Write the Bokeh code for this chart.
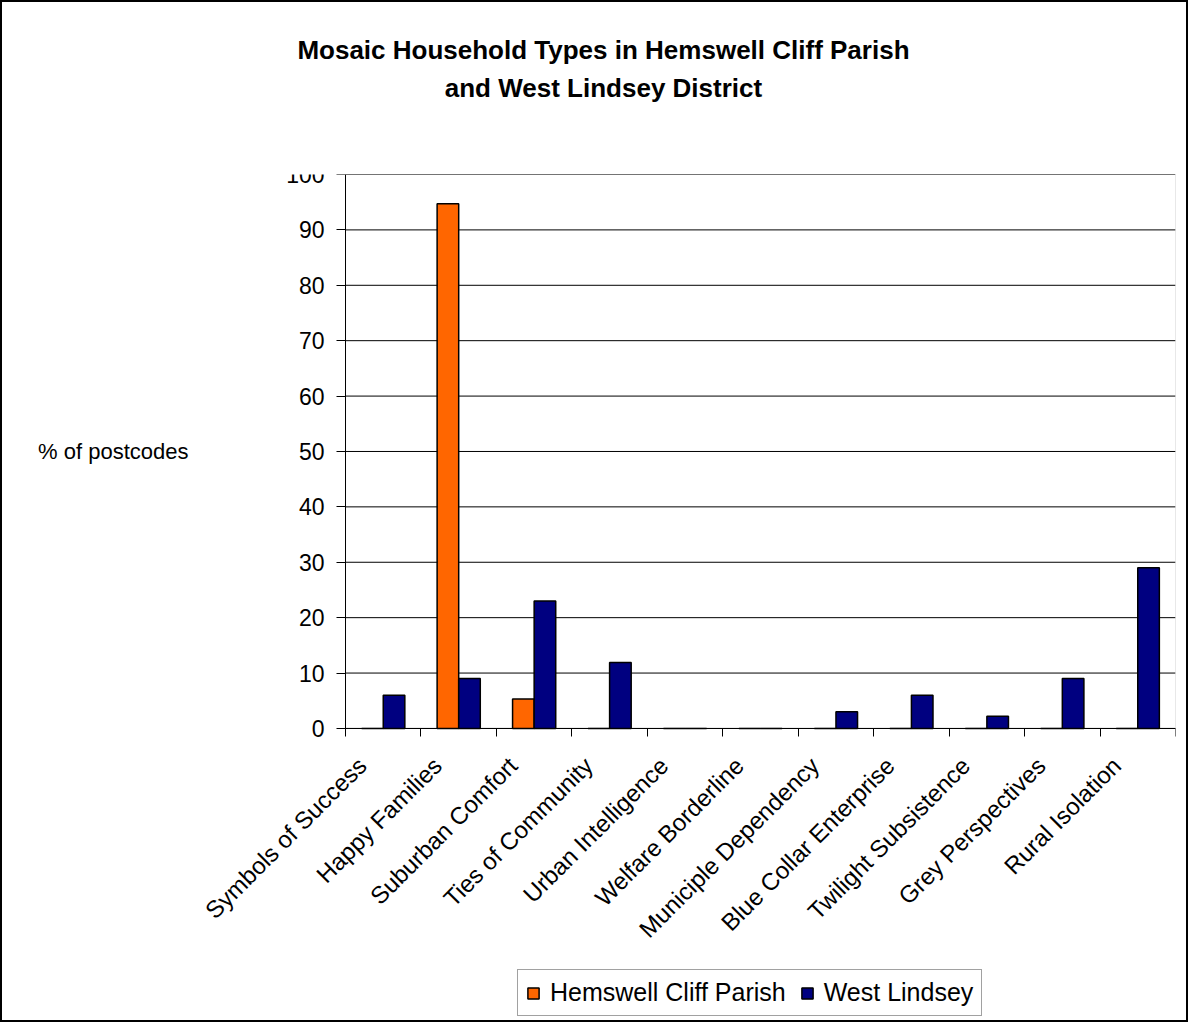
import numpy as np
from bokeh.plotting import figure
from bokeh.models import (Range1d, FixedTicker, Legend, LegendItem, LinearAxis,
                          BoxAnnotation)
from bokeh.embed import file_html
from bokeh.resources import INLINE

categories = ["Symbols of Success", "Happy Families", "Suburban Comfort",
              "Ties of Community", "Urban Intelligence", "Welfare Borderline",
              "Municiple Dependency", "Blue Collar Enterprise",
              "Twilight Subsistence", "Grey Perspectives", "Rural Isolation"]
hemswell = [0, 94.7, 5.3, 0, 0, 0, 0, 0, 0, 0, 0]
west_lindsey = [6, 9, 23, 11.9, 0, 0, 3, 6, 2.2, 9, 29]
y_ticks = list(range(0, 101, 10))
y_label = "% of postcodes"
title_lines = ["Mosaic Household Types in Hemswell Cliff Parish",
               "and West Lindsey District"]

FONT = "Liberation Sans"
n = len(categories)
centers = np.arange(1, n + 1)
bw = 0.286
X_LEFT = -1.422       # room left of the plot area for the slanted category labels
Y_BOTTOM = -52        # room below the value axis for category labels and legend
TITLE_POS = 0.4133    # horizontal position of the title, as a fraction of the frame
LABEL_SHIFT = 0.28    # category labels sit slightly left of the category centre
x_lo, x_hi = 0.5, n + 0.5

p = figure(frame_width=975, frame_height=842, output_backend="svg",
           toolbar_location=None,
           x_range=Range1d(X_LEFT, x_hi), y_range=Range1d(Y_BOTTOM, 100),
           min_border_left=198, min_border_right=11, min_border_top=172,
           min_border_bottom=4)
p.extra_x_ranges = {"title": Range1d(0, 1)}
p.styles = {"border": "2px solid black"}
p.background_fill_color = "white"
p.border_fill_color = "white"
p.outline_line_color = None

xa = p.below[0]
ya = p.left[0]

# plot-area border
p.add_layout(BoxAnnotation(left=x_lo, right=x_hi, bottom=0, top=100,
                           fill_alpha=0, line_color="#666666", line_width=1,
                           level="underlay"))

# horizontal gridlines across the plot area only
p.segment(x0=[x_lo] * len(y_ticks), x1=[x_hi] * len(y_ticks), y0=y_ticks,
          y1=y_ticks, line_color="black", line_width=1)

r1 = p.vbar(x=centers - bw / 2, top=hemswell, width=bw, fill_color="#FF6600",
            line_color="black", line_width=1.5)
r2 = p.vbar(x=centers + bw / 2, top=west_lindsey, width=bw, fill_color="#000080",
            line_color="black", line_width=1.5)

# y axis at the left edge of the plot area
ya.fixed_location = x_lo
ya.ticker = FixedTicker(ticks=y_ticks)
ya.bounds = (0, 100)
ya.major_tick_out = 9
ya.major_tick_in = 0
ya.minor_tick_out = 0
ya.minor_tick_in = 0
ya.axis_line_color = "black"
ya.major_label_text_font = FONT
ya.major_label_text_font_size = "23px"
ya.major_label_text_color = "black"
ya.major_label_standoff = 12

# x axis at value 0: boundary ticks as minor ticks, category names as major labels
label_pos = [float(c) - LABEL_SHIFT for c in centers]
xa.fixed_location = 0
xa.bounds = (x_lo, x_hi)
xa.ticker = FixedTicker(ticks=label_pos,
                        minor_ticks=list(np.arange(x_lo, n + 1, 1.0)))
xa.major_label_overrides = {pos: name for pos, name in zip(label_pos, categories)}
xa.major_tick_out = 0
xa.major_tick_in = 0
xa.major_tick_line_color = None
xa.minor_tick_out = 8
xa.minor_tick_in = 0
xa.minor_tick_line_color = "black"
xa.axis_line_color = "black"
xa.major_label_orientation = np.pi / 4
xa.major_label_text_font = FONT
xa.major_label_text_font_size = "24px"
xa.major_label_text_color = "black"
xa.major_label_standoff = 25


def text_axis(extra, label_map, size, standoff, bold=False):
    return LinearAxis(major_label_overrides=label_map,
                      axis_line_color=None, major_tick_line_color=None,
                      minor_tick_line_color=None, major_tick_out=0,
                      major_tick_in=0, minor_tick_out=0, minor_tick_in=0,
                      major_label_text_font=FONT, major_label_text_font_size=size,
                      major_label_text_font_style="bold" if bold else "normal",
                      major_label_text_color="black",
                      major_label_standoff=standoff, **extra)


# horizontal y-axis label, as an outer axis with a single label at mid-height
p.add_layout(text_axis({"ticker": FixedTicker(ticks=[50])}, {50: y_label},
                       "22px", 12), "left")

# two centred title lines, as label-only axes above the frame
p.add_layout(text_axis({"ticker": FixedTicker(ticks=[TITLE_POS]), "x_range_name": "title"},
                       {TITLE_POS: title_lines[1]}, "26px", 72, bold=True), "above")
p.add_layout(text_axis({"ticker": FixedTicker(ticks=[TITLE_POS]), "x_range_name": "title"},
                       {TITLE_POS: title_lines[0]}, "26px", 5, bold=True), "above")

p.xgrid.grid_line_color = None
p.ygrid.grid_line_color = None

legend = Legend(items=[LegendItem(label="Hemswell Cliff Parish", renderers=[r1]),
                       LegendItem(label="West Lindsey", renderers=[r2])],
                location=(317, 0), orientation="horizontal",
                label_text_font=FONT, label_text_font_size="25px",
                label_text_color="black",
                glyph_width=14, glyph_height=14, label_standoff=10, spacing=14,
                padding=8, margin=0, border_line_color="#444444",
                border_line_width=1, background_fill_alpha=1)
p.add_layout(legend, "center")

open("out.html", "w").write(file_html(p, INLINE))
